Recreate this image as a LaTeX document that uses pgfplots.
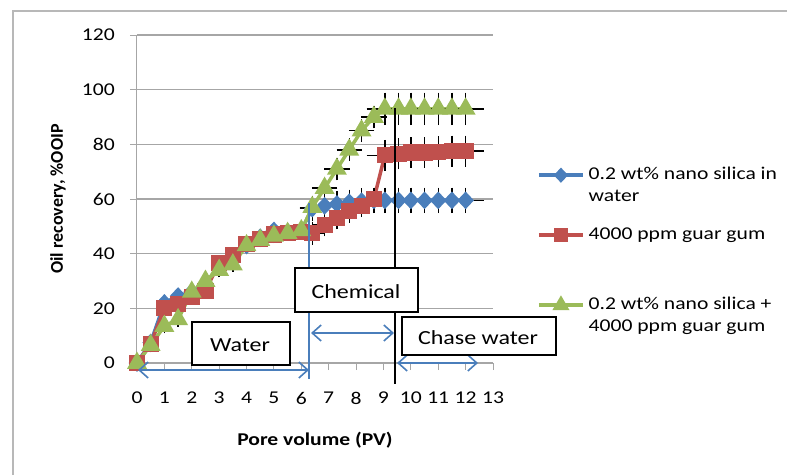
\documentclass[border=0pt]{standalone}
\usepackage{pgfplots}
\pgfplotsset{compat=1.18}
\usepackage{pgfplotstable}
\usetikzlibrary{arrows.meta}
\usepackage{fontspec}
\setmainfont{Carlito}[FakeStretch=1.2]
\newfontfamily\ylabfont{Carlito}

\definecolor{sBlue}{RGB}{74,126,187}
\definecolor{sRed}{RGB}{192,80,77}
\definecolor{sGreen}{RGB}{155,187,89}
\definecolor{gridgray}{RGB}{166,166,166}
\definecolor{annBlue}{RGB}{74,126,187}

\pgfplotsset{
  errbars/.style={
    error bars/x dir=both, error bars/x explicit,
    error bars/y dir=both, error bars/y explicit,
    error bars/error bar style={black, line width=1.4pt},
    error bars/error mark options={black, mark size=4.5pt, line width=1.4pt},
  },
}

% legend text with a fixed height and depth, baseline on its first line
\newcommand\legtext[3]{\smash{\begin{tabular}[t]{@{}l@{}}#1\end{tabular}}\rule[-#3]{0pt}{\dimexpr#2+#3\relax}}

% columns: pore volume, recovery, x error, y error
\pgfplotstableread{
x     y     ex   ey
0     0     0    1
0.5   7.5   0    1
1.0   22    0    1
1.5   24.5  0    1
2.0   26    0    1
2.5   29    0    1
3.0   35.5  0    1
3.5   39    0    1
4.0   43    0    1
4.5   46    0    1
5.0   48.5  0    1
5.5   48    0    1
6.0   48.5  0    1
6.4   56.5  0.3  3
6.85  57.5  0.3  3
7.3   58.2  0.3  3
7.75  58.8  0.3  3
8.2   59.2  0.3  3
8.65  59.5  0.3  3
9.05  59.5  0.5  3
9.55  59.5  0.5  3
10.0  59.5  0.5  3
10.5  59.5  0.5  3
11.0  59.5  0.5  3
11.5  59.5  0.5  3
12.0  59.5  0.5  3
}\silica

\pgfplotstableread{
x     y     ex   ey
0     0     0    1
0.5   7     0    1
1.0   20    0    1
1.5   21.5  0    1
2.0   24    0    1
2.5   26.5  0    1
3.0   36.5  0    1
3.5   39.5  0    1
4.0   43.5  0    1
4.5   45.5  0    1
5.0   47    0    1
5.5   47.5  0    1
6.0   48    0    1
6.4   47.5  0.3  2.5
6.85  50.5  0.3  2.5
7.3   53    0.3  2.5
7.75  55.5  0.3  2.5
8.2   57.5  0.3  2.5
8.65  60    0.3  2.5
9.05  76    0.5  4
9.55  76.5  0.5  4
10.0  77    0.5  4
10.5  77    0.5  4
11.0  77.3  0.5  4
11.5  77.5  0.5  4
12.0  77.5  0.5  4
}\guar

\pgfplotstableread{
x     y     ex   ey
0     0     0    1
0.5   6.5   0    1
1.0   13.5  0    1
1.5   16    0    1
2.0   26    0    1
2.5   30    0    1
3.0   34    0    1
3.5   36    0    1
4.0   43    0    1
4.5   45    0    1
5.0   46.5  0    1
5.5   47.5  0    1
6.0   48.5  0    1
6.4   57    0.3  2.5
6.85  64    0.3  2.5
7.3   71    0.3  2.5
7.75  78    0.3  2.5
8.2   85    0.3  2.5
8.65  90    0.3  2.5
9.05  93    0.5  4.3
9.55  93    0.5  4.3
10.0  93    0.5  4.3
10.5  93    0.5  4.3
11.0  93    0.5  4.3
11.5  93    0.5  4.3
12.0  93    0.5  4.3
}\mix

\begin{document}
\fontsize{18}{22}\selectfont
\begin{tikzpicture}
\useasboundingbox (0,0) rectangle (787pt,475pt);
% outer chart frame
\draw[gridgray!80, line width=1.2pt] (13pt,0pt) -- (13pt,464pt) -- (787pt,464pt);

\begin{axis}[
  at={(137pt,112pt)}, anchor=south west,
  scale only axis, width=356pt, height=328pt,
  xmin=0, xmax=13, ymin=0, ymax=120,
  xtick={0,1,...,13}, ytick={0,20,...,120},
  axis lines=left, axis line style={-, gridgray, line width=1pt},
  tick align=outside, major tick length=7pt,
  tick style={gridgray, line width=1pt},
  ymajorgrids, grid style={gridgray, line width=1.1pt},
  /pgf/number format/assume math mode=true,
  ticklabel style={font=\fontsize{18}{22}\selectfont},
  yticklabel style={anchor=east, inner sep=0pt, xshift=-15pt},
  xticklabel style={anchor=north, inner sep=0pt, yshift=-22pt},
  xlabel={\bfseries Pore volume (PV)},
  ylabel={\ylabfont\bfseries Oil recovery, \%OOIP},
  xlabel style={at={(axis description cs:0.5,-0.235)}, anchor=center, font=\fontsize{18}{22}\selectfont},
  ylabel style={at={(axis description cs:-0.222,0.5)}, anchor=center, rotate=0, font=\fontsize{18}{22}\selectfont},
  clip=false,
  legend style={at={(axis description cs:1.1236,0.6067)}, anchor=north west,
    draw=none, fill=none, inner sep=0pt, row sep=0pt, column sep=4pt,
    font=\fontsize{18}{22}\selectfont,
    nodes={text depth=, text height=, inner sep=0pt},
    cells={anchor=base west}},
  legend image code/.code={\draw[mark repeat=2,mark phase=2,
      every mark/.append style={scale=0.8}]
    plot coordinates {(0pt,4pt) (22pt,4pt) (44pt,4pt)};},
]
\addplot[sBlue, line width=3.5pt, mark=diamond*, mark size=6.3pt,
  mark options={solid, xscale=1.25}, errbars]
  table[x=x, y=y, x error=ex, y error=ey] {\silica};
\addlegendentry{\legtext{0.2 wt\% nano silica in\\water}{15pt}{45pt}}

\addplot[sRed, line width=3.5pt, mark=square*, mark size=6.3pt, mark options={solid}, errbars]
  table[x=x, y=y, x error=ex, y error=ey] {\guar};
\addlegendentry{\legtext{4000 ppm guar gum}{15pt}{55pt}}

\addplot[sGreen, line width=3.5pt, mark=triangle*, mark size=8pt, mark options={solid}, errbars]
  table[x=x, y=y, x error=ex, y error=ey] {\mix};
\addlegendentry{\legtext{0.2 wt\% nano silica +\\4000 ppm guar gum}{15pt}{30pt}}
\end{axis}

% flooding stages: divider lines, arrows and labels
\begin{scope}[x=1pt, y=-1pt, shift={(0pt,475pt)}]
  \draw[annBlue, line width=1.6pt] (309,203) -- (309,379);
  \draw[black, line width=1.6pt] (395,108) -- (395,384);
  \draw[annBlue, line width=1.6pt, {Straight Barb[length=9pt,width=16pt]}-{Straight Barb[length=9pt,width=16pt]}] (138,370) -- (309,370);
  \draw[annBlue, line width=1.6pt, {Straight Barb[length=9pt,width=16pt]}-{Straight Barb[length=9pt,width=16pt]}] (311,333) -- (394,333);
  \draw[annBlue, line width=1.6pt, {Straight Barb[length=9pt,width=16pt]}-{Straight Barb[length=9pt,width=16pt]}] (397,363) -- (478,363);
  \draw[black, line width=1.2pt, fill=white] (192,322) rectangle (290,365);
  \node at (240,345) {\fontsize{20}{24}\selectfont Water};
  \draw[black, line width=1.2pt, fill=white] (295,268) rectangle (418,312);
  \node at (356,292) {\fontsize{20}{24}\selectfont Chemical};
  \draw[black, line width=1.2pt, fill=white] (402,317) rectangle (556,355);
  \node at (478,338) {\fontsize{20}{24}\selectfont Chase water};
\end{scope}
\end{tikzpicture}
\end{document}
